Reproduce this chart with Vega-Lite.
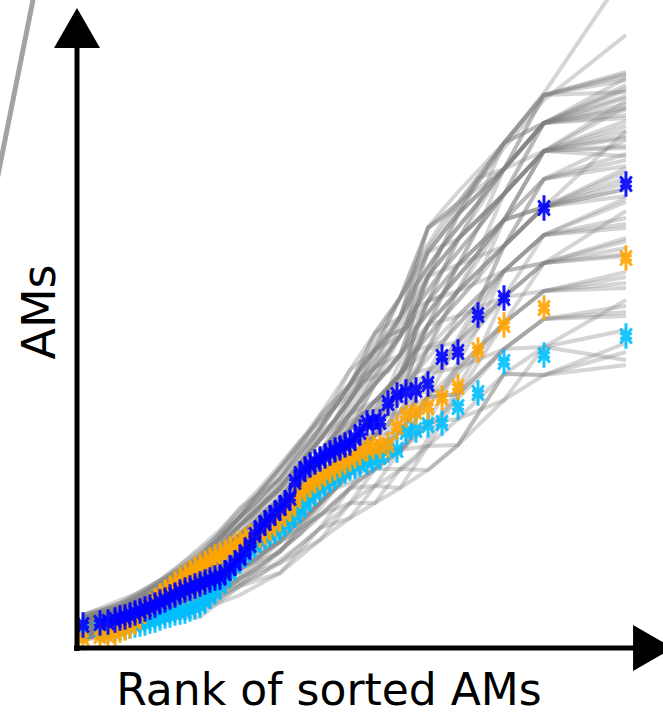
{
"$schema":"https://vega.github.io/schema/vega-lite/v6.json",
"width":663,"height":718,"autosize":"none","padding":0,
"config":{"view":{"stroke":null}},
"datasets":{
"lines":[
{"l":1,"x":6,"v":8},{"l":1,"x":43,"v":13},{"l":1,"x":83,"v":25},{"l":1,"x":123,"v":38},{"l":1,"x":163,"v":53},{"l":1,"x":203,"v":75},{"l":1,"x":243,"v":108},{"l":1,"x":273,"v":130},{"l":1,"x":298,"v":145},{"l":1,"x":323,"v":160},{"l":1,"x":351,"v":178},{"l":1,"x":381,"v":203},{"l":1,"x":427,"v":248},{"l":1,"x":467,"v":273},{"l":1,"x":549,"v":283},
{"l":2,"x":6,"v":10},{"l":2,"x":43,"v":13},{"l":2,"x":83,"v":29},{"l":2,"x":123,"v":31},{"l":2,"x":163,"v":62},{"l":2,"x":203,"v":85},{"l":2,"x":243,"v":108},{"l":2,"x":273,"v":145},{"l":2,"x":298,"v":145},{"l":2,"x":323,"v":179},{"l":2,"x":351,"v":178},{"l":2,"x":381,"v":203},{"l":2,"x":427,"v":274},{"l":2,"x":467,"v":273},{"l":2,"x":549,"v":305},
{"l":3,"x":6,"v":13},{"l":3,"x":43,"v":16},{"l":3,"x":83,"v":25},{"l":3,"x":123,"v":38},{"l":3,"x":163,"v":70},{"l":3,"x":203,"v":85},{"l":3,"x":243,"v":120},{"l":3,"x":273,"v":130},{"l":3,"x":298,"v":162},{"l":3,"x":323,"v":160},{"l":3,"x":351,"v":202},{"l":3,"x":381,"v":229},{"l":3,"x":427,"v":248},{"l":3,"x":467,"v":301},{"l":3,"x":549,"v":288},
{"l":4,"x":6,"v":8},{"l":4,"x":43,"v":19},{"l":4,"x":83,"v":29},{"l":4,"x":123,"v":44},{"l":4,"x":163,"v":62},{"l":4,"x":203,"v":96},{"l":4,"x":243,"v":133},{"l":4,"x":273,"v":145},{"l":4,"x":298,"v":179},{"l":4,"x":323,"v":179},{"l":4,"x":351,"v":202},{"l":4,"x":381,"v":203},{"l":4,"x":427,"v":274},{"l":4,"x":467,"v":301},{"l":4,"x":549,"v":318},
{"l":5,"x":6,"v":16},{"l":5,"x":43,"v":19},{"l":5,"x":83,"v":34},{"l":5,"x":123,"v":38},{"l":5,"x":163,"v":62},{"l":5,"x":203,"v":75},{"l":5,"x":243,"v":120},{"l":5,"x":273,"v":160},{"l":5,"x":298,"v":162},{"l":5,"x":323,"v":198},{"l":5,"x":351,"v":226},{"l":5,"x":381,"v":229},{"l":5,"x":427,"v":274},{"l":5,"x":467,"v":273},{"l":5,"x":549,"v":296},
{"l":6,"x":6,"v":10},{"l":6,"x":43,"v":16},{"l":6,"x":83,"v":34},{"l":6,"x":123,"v":51},{"l":6,"x":163,"v":70},{"l":6,"x":203,"v":106},{"l":6,"x":243,"v":133},{"l":6,"x":273,"v":160},{"l":6,"x":298,"v":196},{"l":6,"x":323,"v":198},{"l":6,"x":351,"v":202},{"l":6,"x":381,"v":254},{"l":6,"x":427,"v":299},{"l":6,"x":467,"v":329},{"l":6,"x":549,"v":342},
{"l":7,"x":6,"v":18},{"l":7,"x":43,"v":23},{"l":7,"x":83,"v":38},{"l":7,"x":123,"v":44},{"l":7,"x":163,"v":79},{"l":7,"x":203,"v":96},{"l":7,"x":243,"v":145},{"l":7,"x":273,"v":174},{"l":7,"x":298,"v":179},{"l":7,"x":323,"v":217},{"l":7,"x":351,"v":251},{"l":7,"x":381,"v":254},{"l":7,"x":427,"v":299},{"l":7,"x":467,"v":301},{"l":7,"x":549,"v":348},
{"l":8,"x":6,"v":13},{"l":8,"x":43,"v":23},{"l":8,"x":83,"v":42},{"l":8,"x":123,"v":51},{"l":8,"x":163,"v":79},{"l":8,"x":203,"v":117},{"l":8,"x":243,"v":145},{"l":8,"x":273,"v":189},{"l":8,"x":298,"v":196},{"l":8,"x":323,"v":198},{"l":8,"x":351,"v":226},{"l":8,"x":381,"v":280},{"l":8,"x":427,"v":325},{"l":8,"x":467,"v":357},{"l":8,"x":549,"v":371},
{"l":9,"x":6,"v":20},{"l":9,"x":43,"v":26},{"l":9,"x":83,"v":38},{"l":9,"x":123,"v":58},{"l":9,"x":163,"v":88},{"l":9,"x":203,"v":106},{"l":9,"x":243,"v":158},{"l":9,"x":273,"v":174},{"l":9,"x":298,"v":213},{"l":9,"x":323,"v":236},{"l":9,"x":351,"v":251},{"l":9,"x":381,"v":280},{"l":9,"x":427,"v":299},{"l":9,"x":467,"v":329},{"l":9,"x":549,"v":336},
{"l":10,"x":6,"v":16},{"l":10,"x":43,"v":26},{"l":10,"x":83,"v":46},{"l":10,"x":123,"v":58},{"l":10,"x":163,"v":96},{"l":10,"x":203,"v":117},{"l":10,"x":243,"v":170},{"l":10,"x":273,"v":189},{"l":10,"x":298,"v":213},{"l":10,"x":323,"v":217},{"l":10,"x":351,"v":275},{"l":10,"x":381,"v":306},{"l":10,"x":427,"v":351},{"l":10,"x":467,"v":357},{"l":10,"x":549,"v":365},
{"l":11,"x":6,"v":23},{"l":11,"x":43,"v":29},{"l":11,"x":83,"v":42},{"l":11,"x":123,"v":65},{"l":11,"x":163,"v":88},{"l":11,"x":203,"v":127},{"l":11,"x":243,"v":158},{"l":11,"x":273,"v":204},{"l":11,"x":298,"v":230},{"l":11,"x":323,"v":255},{"l":11,"x":351,"v":275},{"l":11,"x":381,"v":280},{"l":11,"x":427,"v":325},{"l":11,"x":467,"v":385},{"l":11,"x":549,"v":400},
{"l":12,"x":6,"v":18},{"l":12,"x":43,"v":29},{"l":12,"x":83,"v":46},{"l":12,"x":123,"v":71},{"l":12,"x":163,"v":96},{"l":12,"x":203,"v":127},{"l":12,"x":243,"v":183},{"l":12,"x":273,"v":204},{"l":12,"x":298,"v":230},{"l":12,"x":323,"v":236},{"l":12,"x":351,"v":299},{"l":12,"x":381,"v":332},{"l":12,"x":427,"v":377},{"l":12,"x":467,"v":385},{"l":12,"x":549,"v":407},
{"l":13,"x":6,"v":20},{"l":13,"x":43,"v":32},{"l":13,"x":83,"v":51},{"l":13,"x":123,"v":65},{"l":13,"x":163,"v":105},{"l":13,"x":203,"v":138},{"l":13,"x":243,"v":170},{"l":13,"x":273,"v":219},{"l":13,"x":298,"v":247},{"l":13,"x":323,"v":255},{"l":13,"x":351,"v":299},{"l":13,"x":381,"v":306},{"l":13,"x":427,"v":351},{"l":13,"x":467,"v":413},{"l":13,"x":549,"v":430},
{"l":14,"x":6,"v":26},{"l":14,"x":43,"v":32},{"l":14,"x":83,"v":46},{"l":14,"x":123,"v":71},{"l":14,"x":163,"v":105},{"l":14,"x":203,"v":148},{"l":14,"x":243,"v":183},{"l":14,"x":273,"v":219},{"l":14,"x":298,"v":230},{"l":14,"x":323,"v":274},{"l":14,"x":351,"v":323},{"l":14,"x":381,"v":357},{"l":14,"x":427,"v":377},{"l":14,"x":467,"v":413},{"l":14,"x":549,"v":424},
{"l":15,"x":6,"v":23},{"l":15,"x":43,"v":35},{"l":15,"x":83,"v":55},{"l":15,"x":123,"v":71},{"l":15,"x":163,"v":114},{"l":15,"x":203,"v":138},{"l":15,"x":243,"v":195},{"l":15,"x":273,"v":234},{"l":15,"x":298,"v":247},{"l":15,"x":323,"v":274},{"l":15,"x":351,"v":347},{"l":15,"x":381,"v":357},{"l":15,"x":427,"v":402},{"l":15,"x":467,"v":441},{"l":15,"x":549,"v":459},
{"l":16,"x":6,"v":28},{"l":16,"x":43,"v":35},{"l":16,"x":83,"v":51},{"l":16,"x":123,"v":78},{"l":16,"x":163,"v":114},{"l":16,"x":203,"v":148},{"l":16,"x":243,"v":183},{"l":16,"x":273,"v":234},{"l":16,"x":298,"v":264},{"l":16,"x":323,"v":293},{"l":16,"x":351,"v":323},{"l":16,"x":381,"v":383},{"l":16,"x":427,"v":428},{"l":16,"x":467,"v":441},{"l":16,"x":549,"v":452},
{"l":17,"x":6,"v":26},{"l":17,"x":43,"v":39},{"l":17,"x":83,"v":55},{"l":17,"x":123,"v":78},{"l":17,"x":163,"v":123},{"l":17,"x":203,"v":159},{"l":17,"x":243,"v":208},{"l":17,"x":273,"v":234},{"l":17,"x":298,"v":281},{"l":17,"x":323,"v":293},{"l":17,"x":351,"v":347},{"l":17,"x":381,"v":383},{"l":17,"x":427,"v":402},{"l":17,"x":467,"v":469},{"l":17,"x":549,"v":488},
{"l":18,"x":6,"v":30},{"l":18,"x":43,"v":39},{"l":18,"x":83,"v":59},{"l":18,"x":123,"v":85},{"l":18,"x":163,"v":114},{"l":18,"x":203,"v":159},{"l":18,"x":243,"v":195},{"l":18,"x":273,"v":248},{"l":18,"x":298,"v":281},{"l":18,"x":323,"v":312},{"l":18,"x":351,"v":372},{"l":18,"x":381,"v":383},{"l":18,"x":427,"v":428},{"l":18,"x":467,"v":469},{"l":18,"x":549,"v":482},
{"l":19,"x":6,"v":28},{"l":19,"x":43,"v":42},{"l":19,"x":83,"v":59},{"l":19,"x":123,"v":91},{"l":19,"x":163,"v":123},{"l":19,"x":203,"v":169},{"l":19,"x":243,"v":208},{"l":19,"x":273,"v":248},{"l":19,"x":298,"v":298},{"l":19,"x":323,"v":312},{"l":19,"x":351,"v":372},{"l":19,"x":381,"v":409},{"l":19,"x":427,"v":454},{"l":19,"x":467,"v":497},{"l":19,"x":549,"v":500},
{"l":20,"x":6,"v":33},{"l":20,"x":43,"v":42},{"l":20,"x":83,"v":64},{"l":20,"x":123,"v":85},{"l":20,"x":163,"v":131},{"l":20,"x":203,"v":159},{"l":20,"x":243,"v":220},{"l":20,"x":273,"v":263},{"l":20,"x":298,"v":281},{"l":20,"x":323,"v":331},{"l":20,"x":351,"v":396},{"l":20,"x":381,"v":409},{"l":20,"x":427,"v":454},{"l":20,"x":467,"v":497},{"l":20,"x":549,"v":517},
{"l":21,"x":6,"v":30},{"l":21,"x":43,"v":45},{"l":21,"x":83,"v":64},{"l":21,"x":123,"v":91},{"l":21,"x":163,"v":131},{"l":21,"x":203,"v":180},{"l":21,"x":243,"v":220},{"l":21,"x":273,"v":263},{"l":21,"x":298,"v":298},{"l":21,"x":323,"v":331},{"l":21,"x":351,"v":372},{"l":21,"x":381,"v":434},{"l":21,"x":427,"v":479},{"l":21,"x":467,"v":497},{"l":21,"x":549,"v":512},
{"l":22,"x":6,"v":33},{"l":22,"x":43,"v":45},{"l":22,"x":83,"v":68},{"l":22,"x":123,"v":91},{"l":22,"x":163,"v":140},{"l":22,"x":203,"v":169},{"l":22,"x":243,"v":233},{"l":22,"x":273,"v":278},{"l":22,"x":298,"v":298},{"l":22,"x":323,"v":350},{"l":22,"x":351,"v":396},{"l":22,"x":381,"v":434},{"l":22,"x":427,"v":479},{"l":22,"x":467,"v":525},{"l":22,"x":549,"v":540},
{"l":23,"x":6,"v":33},{"l":23,"x":43,"v":42},{"l":23,"x":83,"v":68},{"l":23,"x":123,"v":98},{"l":23,"x":163,"v":131},{"l":23,"x":203,"v":180},{"l":23,"x":243,"v":233},{"l":23,"x":273,"v":263},{"l":23,"x":298,"v":315},{"l":23,"x":323,"v":331},{"l":23,"x":351,"v":420},{"l":23,"x":381,"v":445},{"l":23,"x":427,"v":505},{"l":23,"x":467,"v":525},{"l":23,"x":549,"v":550},
{"l":24,"x":6,"v":26},{"l":24,"x":43,"v":35},{"l":24,"x":83,"v":59},{"l":24,"x":123,"v":85},{"l":24,"x":163,"v":131},{"l":24,"x":203,"v":169},{"l":24,"x":243,"v":220},{"l":24,"x":273,"v":278},{"l":24,"x":298,"v":315},{"l":24,"x":323,"v":350},{"l":24,"x":351,"v":420},{"l":24,"x":381,"v":445},{"l":24,"x":427,"v":479},{"l":24,"x":467,"v":553},{"l":24,"x":549,"v":576},
{"l":25,"x":6,"v":23},{"l":25,"x":43,"v":32},{"l":25,"x":83,"v":55},{"l":25,"x":123,"v":78},{"l":25,"x":163,"v":123},{"l":25,"x":203,"v":159},{"l":25,"x":243,"v":208},{"l":25,"x":273,"v":248},{"l":25,"x":298,"v":298},{"l":25,"x":323,"v":331},{"l":25,"x":351,"v":396},{"l":25,"x":381,"v":434},{"l":25,"x":427,"v":505},{"l":25,"x":467,"v":553},{"l":25,"x":549,"v":568},
{"l":26,"x":6,"v":16},{"l":26,"x":43,"v":23},{"l":26,"x":83,"v":42},{"l":26,"x":123,"v":58},{"l":26,"x":163,"v":96},{"l":26,"x":203,"v":127},{"l":26,"x":243,"v":183},{"l":26,"x":273,"v":219},{"l":26,"x":298,"v":264},{"l":26,"x":323,"v":293},{"l":26,"x":351,"v":372},{"l":26,"x":381,"v":409},{"l":26,"x":427,"v":454},{"l":26,"x":467,"v":525},{"l":26,"x":549,"v":533},
{"l":27,"x":6,"v":13},{"l":27,"x":43,"v":19},{"l":27,"x":83,"v":38},{"l":27,"x":123,"v":51},{"l":27,"x":163,"v":88},{"l":27,"x":203,"v":117},{"l":27,"x":243,"v":170},{"l":27,"x":273,"v":204},{"l":27,"x":298,"v":247},{"l":27,"x":323,"v":274},{"l":27,"x":351,"v":347},{"l":27,"x":381,"v":383},{"l":27,"x":427,"v":428},{"l":27,"x":467,"v":497},{"l":27,"x":549,"v":522},
{"l":28,"x":6,"v":18},{"l":28,"x":43,"v":26},{"l":28,"x":83,"v":42},{"l":28,"x":123,"v":65},{"l":28,"x":163,"v":96},{"l":28,"x":203,"v":138},{"l":28,"x":243,"v":183},{"l":28,"x":273,"v":234},{"l":28,"x":298,"v":264},{"l":28,"x":323,"v":312},{"l":28,"x":351,"v":347},{"l":28,"x":381,"v":409},{"l":28,"x":427,"v":454},{"l":28,"x":467,"v":497},{"l":28,"x":549,"v":547},
{"l":29,"x":6,"v":20},{"l":29,"x":43,"v":29},{"l":29,"x":83,"v":51},{"l":29,"x":123,"v":71},{"l":29,"x":163,"v":105},{"l":29,"x":203,"v":138},{"l":29,"x":243,"v":195},{"l":29,"x":273,"v":219},{"l":29,"x":298,"v":264},{"l":29,"x":323,"v":293},{"l":29,"x":351,"v":372},{"l":29,"x":381,"v":409},{"l":29,"x":427,"v":479},{"l":29,"x":467,"v":525},{"l":29,"x":549,"v":563},
{"l":30,"x":6,"v":28},{"l":30,"x":43,"v":39},{"l":30,"x":83,"v":55},{"l":30,"x":123,"v":71},{"l":30,"x":163,"v":105},{"l":30,"x":203,"v":127},{"l":30,"x":243,"v":170},{"l":30,"x":273,"v":204},{"l":30,"x":298,"v":213},{"l":30,"x":323,"v":255},{"l":30,"x":351,"v":323},{"l":30,"x":381,"v":357},{"l":30,"x":427,"v":428},{"l":30,"x":467,"v":469},{"l":30,"x":549,"v":508},
{"l":31,"x":6,"v":30},{"l":31,"x":43,"v":39},{"l":31,"x":83,"v":64},{"l":31,"x":123,"v":85},{"l":31,"x":163,"v":123},{"l":31,"x":203,"v":148},{"l":31,"x":243,"v":195},{"l":31,"x":273,"v":219},{"l":31,"x":298,"v":247},{"l":31,"x":323,"v":274},{"l":31,"x":351,"v":299},{"l":31,"x":381,"v":357},{"l":31,"x":427,"v":402},{"l":31,"x":467,"v":469},{"l":31,"x":549,"v":494},
{"l":32,"x":6,"v":10},{"l":32,"x":43,"v":19},{"l":32,"x":83,"v":34},{"l":32,"x":123,"v":44},{"l":32,"x":163,"v":79},{"l":32,"x":203,"v":106},{"l":32,"x":243,"v":145},{"l":32,"x":273,"v":189},{"l":32,"x":298,"v":213},{"l":32,"x":323,"v":255},{"l":32,"x":351,"v":323},{"l":32,"x":381,"v":357},{"l":32,"x":427,"v":402},{"l":32,"x":467,"v":441},{"l":32,"x":549,"v":465},
{"l":33,"x":6,"v":23},{"l":33,"x":43,"v":29},{"l":33,"x":83,"v":46},{"l":33,"x":123,"v":65},{"l":33,"x":163,"v":88},{"l":33,"x":203,"v":117},{"l":33,"x":243,"v":158},{"l":33,"x":273,"v":174},{"l":33,"x":298,"v":196},{"l":33,"x":323,"v":217},{"l":33,"x":351,"v":251},{"l":33,"x":381,"v":306},{"l":33,"x":427,"v":377},{"l":33,"x":467,"v":413},{"l":33,"x":549,"v":446},
{"l":34,"x":6,"v":16},{"l":34,"x":43,"v":23},{"l":34,"x":83,"v":38},{"l":34,"x":123,"v":51},{"l":34,"x":163,"v":79},{"l":34,"x":203,"v":106},{"l":34,"x":243,"v":133},{"l":34,"x":273,"v":160},{"l":34,"x":298,"v":179},{"l":34,"x":323,"v":198},{"l":34,"x":351,"v":251},{"l":34,"x":381,"v":254},{"l":34,"x":427,"v":325},{"l":34,"x":467,"v":357},{"l":34,"x":549,"v":376},
{"l":35,"x":6,"v":26},{"l":35,"x":43,"v":35},{"l":35,"x":83,"v":51},{"l":35,"x":123,"v":65},{"l":35,"x":163,"v":96},{"l":35,"x":203,"v":117},{"l":35,"x":243,"v":158},{"l":35,"x":273,"v":189},{"l":35,"x":298,"v":230},{"l":35,"x":323,"v":274},{"l":35,"x":351,"v":323},{"l":35,"x":381,"v":332},{"l":35,"x":427,"v":351},{"l":35,"x":467,"v":385},{"l":35,"x":549,"v":437},
{"l":36,"x":6,"v":13},{"l":36,"x":43,"v":16},{"l":36,"x":83,"v":29},{"l":36,"x":123,"v":38},{"l":36,"x":163,"v":70},{"l":36,"x":203,"v":96},{"l":36,"x":243,"v":145},{"l":36,"x":273,"v":174},{"l":36,"x":298,"v":196},{"l":36,"x":323,"v":236},{"l":36,"x":351,"v":275},{"l":36,"x":381,"v":332},{"l":36,"x":427,"v":377},{"l":36,"x":467,"v":385},{"l":36,"x":549,"v":394},
{"l":37,"x":6,"v":28},{"l":37,"x":43,"v":39},{"l":37,"x":83,"v":59},{"l":37,"x":123,"v":91},{"l":37,"x":163,"v":131},{"l":37,"x":203,"v":169},{"l":37,"x":243,"v":220},{"l":37,"x":273,"v":263},{"l":37,"x":298,"v":315},{"l":37,"x":323,"v":350},{"l":37,"x":351,"v":420},{"l":37,"x":381,"v":440},{"l":37,"x":427,"v":505},{"l":37,"x":467,"v":553},{"l":37,"x":549,"v":572},
{"l":38,"x":6,"v":20},{"l":38,"x":43,"v":32},{"l":38,"x":83,"v":51},{"l":38,"x":123,"v":78},{"l":38,"x":163,"v":114},{"l":38,"x":203,"v":148},{"l":38,"x":243,"v":208},{"l":38,"x":273,"v":248},{"l":38,"x":298,"v":281},{"l":38,"x":323,"v":312},{"l":38,"x":351,"v":396},{"l":38,"x":381,"v":434},{"l":38,"x":427,"v":479},{"l":38,"x":467,"v":525},{"l":38,"x":549,"v":558},
{"l":39,"x":6,"v":18},{"l":39,"x":43,"v":33},{"l":39,"x":83,"v":58},{"l":39,"x":123,"v":88},{"l":39,"x":163,"v":133},{"l":39,"x":203,"v":178},{"l":39,"x":243,"v":228},{"l":39,"x":273,"v":253},{"l":39,"x":298,"v":288},{"l":39,"x":323,"v":330},{"l":39,"x":351,"v":421},{"l":39,"x":381,"v":456},{"l":39,"x":427,"v":505},{"l":39,"x":467,"v":555},{"l":39,"x":549,"v":676},
{"l":40,"x":6,"v":25},{"l":40,"x":43,"v":40},{"l":40,"x":83,"v":65},{"l":40,"x":123,"v":95},{"l":40,"x":163,"v":135},{"l":40,"x":203,"v":180},{"l":40,"x":243,"v":230},{"l":40,"x":273,"v":265},{"l":40,"x":298,"v":300},{"l":40,"x":323,"v":350},{"l":40,"x":351,"v":400},{"l":40,"x":381,"v":440},{"l":40,"x":427,"v":500},{"l":40,"x":467,"v":548},{"l":40,"x":549,"v":613},
{"l":41,"x":6,"v":10},{"l":41,"x":63,"v":22},{"l":41,"x":103,"v":39},{"l":41,"x":143,"v":57},{"l":41,"x":183,"v":92},{"l":41,"x":223,"v":126},{"l":41,"x":258,"v":173},{"l":41,"x":285,"v":202},{"l":41,"x":311,"v":241},{"l":41,"x":329,"v":261},{"l":41,"x":339,"v":298},{"l":41,"x":365,"v":329},{"l":41,"x":401,"v":395},{"l":41,"x":427,"v":428},{"l":41,"x":467,"v":441},{"l":41,"x":549,"v":517},
{"l":42,"x":6,"v":13},{"l":42,"x":63,"v":26},{"l":42,"x":103,"v":34},{"l":42,"x":143,"v":50},{"l":42,"x":183,"v":82},{"l":42,"x":223,"v":114},{"l":42,"x":258,"v":159},{"l":42,"x":285,"v":202},{"l":42,"x":311,"v":223},{"l":42,"x":329,"v":261},{"l":42,"x":339,"v":276},{"l":42,"x":365,"v":329},{"l":42,"x":401,"v":370},{"l":42,"x":427,"v":428},{"l":42,"x":467,"v":497},{"l":42,"x":549,"v":510},
{"l":43,"x":6,"v":16},{"l":43,"x":63,"v":33},{"l":43,"x":103,"v":50},{"l":43,"x":143,"v":65},{"l":43,"x":183,"v":92},{"l":43,"x":223,"v":137},{"l":43,"x":258,"v":173},{"l":43,"x":285,"v":218},{"l":43,"x":311,"v":241},{"l":43,"x":329,"v":281},{"l":43,"x":339,"v":298},{"l":43,"x":365,"v":353},{"l":43,"x":401,"v":395},{"l":43,"x":427,"v":454},{"l":43,"x":467,"v":497},{"l":43,"x":549,"v":541},
{"l":44,"x":6,"v":18},{"l":44,"x":63,"v":29},{"l":44,"x":103,"v":45},{"l":44,"x":143,"v":72},{"l":44,"x":183,"v":102},{"l":44,"x":223,"v":149},{"l":44,"x":258,"v":187},{"l":44,"x":285,"v":218},{"l":44,"x":311,"v":259},{"l":44,"x":329,"v":281},{"l":44,"x":339,"v":320},{"l":44,"x":365,"v":353},{"l":44,"x":401,"v":420},{"l":44,"x":427,"v":454},{"l":44,"x":467,"v":525},{"l":44,"x":549,"v":552},
{"l":45,"x":6,"v":20},{"l":45,"x":63,"v":37},{"l":45,"x":103,"v":50},{"l":45,"x":143,"v":72},{"l":45,"x":183,"v":112},{"l":45,"x":223,"v":149},{"l":45,"x":258,"v":200},{"l":45,"x":285,"v":234},{"l":45,"x":311,"v":259},{"l":45,"x":329,"v":301},{"l":45,"x":339,"v":320},{"l":45,"x":365,"v":377},{"l":45,"x":401,"v":420},{"l":45,"x":427,"v":479},{"l":45,"x":467,"v":525},{"l":45,"x":549,"v":544},
{"l":46,"x":6,"v":23},{"l":46,"x":63,"v":41},{"l":46,"x":103,"v":56},{"l":46,"x":143,"v":80},{"l":46,"x":183,"v":112},{"l":46,"x":223,"v":161},{"l":46,"x":258,"v":200},{"l":46,"x":285,"v":250},{"l":46,"x":311,"v":277},{"l":46,"x":329,"v":301},{"l":46,"x":339,"v":341},{"l":46,"x":365,"v":377},{"l":46,"x":401,"v":445},{"l":46,"x":427,"v":479},{"l":46,"x":467,"v":525},{"l":46,"x":549,"v":570},
{"l":47,"x":6,"v":26},{"l":47,"x":63,"v":41},{"l":47,"x":103,"v":61},{"l":47,"x":143,"v":88},{"l":47,"x":183,"v":121},{"l":47,"x":223,"v":161},{"l":47,"x":258,"v":214},{"l":47,"x":285,"v":250},{"l":47,"x":311,"v":294},{"l":47,"x":329,"v":320},{"l":47,"x":339,"v":341},{"l":47,"x":365,"v":401},{"l":47,"x":401,"v":445},{"l":47,"x":427,"v":479},{"l":47,"x":467,"v":553},{"l":47,"x":549,"v":574},
{"l":48,"x":6,"v":28},{"l":48,"x":63,"v":45},{"l":48,"x":103,"v":67},{"l":48,"x":143,"v":95},{"l":48,"x":183,"v":131},{"l":48,"x":223,"v":172},{"l":48,"x":258,"v":214},{"l":48,"x":285,"v":266},{"l":48,"x":311,"v":294},{"l":48,"x":329,"v":340},{"l":48,"x":339,"v":363},{"l":48,"x":365,"v":401},{"l":48,"x":401,"v":445},{"l":48,"x":427,"v":505},{"l":48,"x":467,"v":553},{"l":48,"x":549,"v":556},
{"l":49,"x":6,"v":30},{"l":49,"x":63,"v":48},{"l":49,"x":103,"v":72},{"l":49,"x":143,"v":95},{"l":49,"x":183,"v":141},{"l":49,"x":223,"v":184},{"l":49,"x":258,"v":228},{"l":49,"x":285,"v":266},{"l":49,"x":311,"v":312},{"l":49,"x":329,"v":340},{"l":49,"x":339,"v":363},{"l":49,"x":365,"v":401},{"l":49,"x":401,"v":470},{"l":49,"x":427,"v":505},{"l":49,"x":467,"v":525},{"l":49,"x":549,"v":538},
{"l":50,"x":6,"v":20},{"l":50,"x":63,"v":41},{"l":50,"x":103,"v":61},{"l":50,"x":143,"v":88},{"l":50,"x":183,"v":112},{"l":50,"x":223,"v":149},{"l":50,"x":258,"v":187},{"l":50,"x":285,"v":218},{"l":50,"x":311,"v":259},{"l":50,"x":329,"v":281},{"l":50,"x":339,"v":298},{"l":50,"x":365,"v":329},{"l":50,"x":401,"v":370},{"l":50,"x":427,"v":402},{"l":50,"x":467,"v":441},{"l":50,"x":549,"v":480},
{"l":51,"x":6,"v":16},{"l":51,"x":63,"v":29},{"l":51,"x":103,"v":50},{"l":51,"x":143,"v":80},{"l":51,"x":183,"v":112},{"l":51,"x":223,"v":137},{"l":51,"x":258,"v":173},{"l":51,"x":285,"v":202},{"l":51,"x":311,"v":223},{"l":51,"x":329,"v":261},{"l":51,"x":339,"v":276},{"l":51,"x":365,"v":306},{"l":51,"x":401,"v":345},{"l":51,"x":427,"v":402},{"l":51,"x":467,"v":441},{"l":51,"x":549,"v":470},
{"l":52,"x":6,"v":23},{"l":52,"x":63,"v":37},{"l":52,"x":103,"v":56},{"l":52,"x":143,"v":88},{"l":52,"x":183,"v":131},{"l":52,"x":223,"v":172},{"l":52,"x":258,"v":200},{"l":52,"x":285,"v":234},{"l":52,"x":311,"v":241},{"l":52,"x":329,"v":261},{"l":52,"x":339,"v":276},{"l":52,"x":365,"v":282},{"l":52,"x":401,"v":345},{"l":52,"x":427,"v":377},{"l":52,"x":467,"v":413},{"l":52,"x":549,"v":450},
{"l":53,"x":6,"v":13},{"l":53,"x":63,"v":29},{"l":53,"x":103,"v":45},{"l":53,"x":143,"v":65},{"l":53,"x":183,"v":102},{"l":53,"x":223,"v":137},{"l":53,"x":258,"v":173},{"l":53,"x":285,"v":186},{"l":53,"x":311,"v":205},{"l":53,"x":329,"v":241},{"l":53,"x":339,"v":254},{"l":53,"x":365,"v":282},{"l":53,"x":401,"v":320},{"l":53,"x":427,"v":377},{"l":53,"x":467,"v":413},{"l":53,"x":549,"v":420},
{"l":54,"x":6,"v":26},{"l":54,"x":63,"v":48},{"l":54,"x":103,"v":72},{"l":54,"x":143,"v":103},{"l":54,"x":183,"v":141},{"l":54,"x":223,"v":172},{"l":54,"x":258,"v":214},{"l":54,"x":285,"v":234},{"l":54,"x":311,"v":259},{"l":54,"x":329,"v":281},{"l":54,"x":339,"v":298},{"l":54,"x":365,"v":306},{"l":54,"x":401,"v":345},{"l":54,"x":427,"v":402},{"l":54,"x":467,"v":441},{"l":54,"x":549,"v":476},
{"l":55,"x":6,"v":28},{"l":55,"x":63,"v":52},{"l":55,"x":103,"v":78},{"l":55,"x":143,"v":110},{"l":55,"x":183,"v":150},{"l":55,"x":223,"v":195},{"l":55,"x":258,"v":228},{"l":55,"x":285,"v":266},{"l":55,"x":311,"v":277},{"l":55,"x":329,"v":301},{"l":55,"x":339,"v":320},{"l":55,"x":365,"v":353},{"l":55,"x":401,"v":395},{"l":55,"x":427,"v":428},{"l":55,"x":467,"v":497},{"l":55,"x":549,"v":527},
{"l":56,"x":6,"v":18},{"l":56,"x":63,"v":33},{"l":56,"x":103,"v":56},{"l":56,"x":143,"v":72},{"l":56,"x":183,"v":102},{"l":56,"x":223,"v":126},{"l":56,"x":258,"v":159},{"l":56,"x":285,"v":186},{"l":56,"x":311,"v":205},{"l":56,"x":329,"v":221},{"l":56,"x":339,"v":254},{"l":56,"x":365,"v":258},{"l":56,"x":401,"v":295},{"l":56,"x":427,"v":351},{"l":56,"x":467,"v":385},{"l":56,"x":549,"v":410},
{"l":57,"x":6,"v":10},{"l":57,"x":63,"v":22},{"l":57,"x":103,"v":34},{"l":57,"x":143,"v":57},{"l":57,"x":183,"v":82},{"l":57,"x":223,"v":114},{"l":57,"x":258,"v":145},{"l":57,"x":285,"v":170},{"l":57,"x":311,"v":188},{"l":57,"x":329,"v":202},{"l":57,"x":339,"v":211},{"l":57,"x":365,"v":234},{"l":57,"x":401,"v":295},{"l":57,"x":427,"v":325},{"l":57,"x":467,"v":357},{"l":57,"x":549,"v":360},
{"l":58,"x":6,"v":23},{"l":58,"x":63,"v":45},{"l":58,"x":103,"v":67},{"l":58,"x":143,"v":103},{"l":58,"x":183,"v":141},{"l":58,"x":223,"v":184},{"l":58,"x":258,"v":241},{"l":58,"x":285,"v":282},{"l":58,"x":311,"v":312},{"l":58,"x":329,"v":320},{"l":58,"x":339,"v":341},{"l":58,"x":365,"v":377},{"l":58,"x":401,"v":420},{"l":58,"x":427,"v":454},{"l":58,"x":467,"v":497},{"l":58,"x":549,"v":502},
{"l":59,"x":6,"v":30},{"l":59,"x":63,"v":52},{"l":59,"x":103,"v":83},{"l":59,"x":143,"v":118},{"l":59,"x":183,"v":160},{"l":59,"x":223,"v":207},{"l":59,"x":258,"v":241},{"l":59,"x":285,"v":282},{"l":59,"x":311,"v":312},{"l":59,"x":329,"v":320},{"l":59,"x":339,"v":341},{"l":59,"x":365,"v":353},{"l":59,"x":401,"v":395},{"l":59,"x":427,"v":428},{"l":59,"x":467,"v":441},{"l":59,"x":549,"v":459},
{"l":60,"x":6,"v":16},{"l":60,"x":63,"v":26},{"l":60,"x":103,"v":39},{"l":60,"x":143,"v":57},{"l":60,"x":183,"v":73},{"l":60,"x":223,"v":103},{"l":60,"x":258,"v":132},{"l":60,"x":285,"v":154},{"l":60,"x":311,"v":170},{"l":60,"x":329,"v":182},{"l":60,"x":339,"v":189},{"l":60,"x":365,"v":234},{"l":60,"x":401,"v":270},{"l":60,"x":427,"v":299},{"l":60,"x":467,"v":329},{"l":60,"x":549,"v":332},
{"l":61,"x":6,"v":20},{"l":61,"x":63,"v":33},{"l":61,"x":103,"v":50},{"l":61,"x":143,"v":80},{"l":61,"x":183,"v":121},{"l":61,"x":223,"v":161},{"l":61,"x":258,"v":214},{"l":61,"x":285,"v":250},{"l":61,"x":311,"v":294},{"l":61,"x":329,"v":320},{"l":61,"x":339,"v":363},{"l":61,"x":365,"v":401},{"l":61,"x":401,"v":445},{"l":61,"x":427,"v":479},{"l":61,"x":467,"v":525},{"l":61,"x":549,"v":530},
{"l":62,"x":6,"v":26},{"l":62,"x":63,"v":45},{"l":62,"x":103,"v":67},{"l":62,"x":143,"v":88},{"l":62,"x":183,"v":121},{"l":62,"x":223,"v":149},{"l":62,"x":258,"v":187},{"l":62,"x":285,"v":218},{"l":62,"x":311,"v":241},{"l":62,"x":329,"v":281},{"l":62,"x":339,"v":320},{"l":62,"x":365,"v":353},{"l":62,"x":401,"v":420},{"l":62,"x":427,"v":454},{"l":62,"x":467,"v":497},{"l":62,"x":549,"v":492},
{"l":63,"x":6,"v":13},{"l":63,"x":63,"v":26},{"l":63,"x":103,"v":45},{"l":63,"x":143,"v":65},{"l":63,"x":183,"v":92},{"l":63,"x":223,"v":126},{"l":63,"x":258,"v":159},{"l":63,"x":285,"v":170},{"l":63,"x":311,"v":188},{"l":63,"x":329,"v":202},{"l":63,"x":339,"v":232},{"l":63,"x":365,"v":258},{"l":63,"x":401,"v":320},{"l":63,"x":427,"v":351},{"l":63,"x":467,"v":385},{"l":63,"x":549,"v":392},
{"l":64,"x":6,"v":33},{"l":64,"x":63,"v":56},{"l":64,"x":103,"v":78},{"l":64,"x":143,"v":110},{"l":64,"x":183,"v":141},{"l":64,"x":223,"v":184},{"l":64,"x":258,"v":228},{"l":64,"x":285,"v":282},{"l":64,"x":311,"v":330},{"l":64,"x":329,"v":360},{"l":64,"x":339,"v":385},{"l":64,"x":365,"v":425},{"l":64,"x":401,"v":470},{"l":64,"x":427,"v":479},{"l":64,"x":467,"v":525},{"l":64,"x":549,"v":560}
],
"marks":[
{"s":"lb","x":6,"v":18},{"s":"lb","x":23,"v":18},{"s":"lb","x":31,"v":18},{"s":"lb","x":38,"v":19},{"s":"lb","x":43,"v":20},{"s":"lb","x":48,"v":21},{"s":"lb","x":53,"v":22},{"s":"lb","x":58,"v":23},{"s":"lb","x":63,"v":24},{"s":"lb","x":68,"v":25},{"s":"lb","x":73,"v":27},{"s":"lb","x":78,"v":28},{"s":"lb","x":83,"v":30},{"s":"lb","x":88,"v":32},{"s":"lb","x":93,"v":33},{"s":"lb","x":98,"v":35},{"s":"lb","x":103,"v":36},{"s":"lb","x":108,"v":37},{"s":"lb","x":113,"v":39},{"s":"lb","x":118,"v":41},{"s":"lb","x":123,"v":43},{"s":"lb","x":128,"v":47},{"s":"lb","x":133,"v":52},{"s":"lb","x":138,"v":56},{"s":"lb","x":143,"v":62},{"s":"lb","x":148,"v":68},{"s":"lb","x":153,"v":75},{"s":"lb","x":158,"v":82},{"s":"lb","x":163,"v":88},{"s":"lb","x":168,"v":93},{"s":"lb","x":173,"v":98},{"s":"lb","x":178,"v":103},{"s":"lb","x":183,"v":108},{"s":"lb","x":188,"v":111},{"s":"lb","x":193,"v":114},{"s":"lb","x":198,"v":117},{"s":"lb","x":203,"v":120},{"s":"lb","x":208,"v":124},{"s":"lb","x":213,"v":128},{"s":"lb","x":218,"v":133},{"s":"lb","x":223,"v":138},{"s":"lb","x":228,"v":144},{"s":"lb","x":233,"v":150},{"s":"lb","x":238,"v":155},{"s":"lb","x":243,"v":160},{"s":"lb","x":248,"v":164},{"s":"lb","x":253,"v":168},{"s":"lb","x":258,"v":171},{"s":"lb","x":263,"v":174},{"s":"lb","x":268,"v":177},{"s":"lb","x":273,"v":180},{"s":"lb","x":278,"v":182},{"s":"lb","x":283,"v":184},{"s":"lb","x":290,"v":186},{"s":"lb","x":296,"v":188},{"s":"lb","x":303,"v":191},{"s":"lb","x":311,"v":198},{"s":"lb","x":320,"v":198},{"s":"lb","x":329,"v":216},{"s":"lb","x":339,"v":218},{"s":"lb","x":351,"v":223},{"s":"lb","x":365,"v":225},{"s":"lb","x":381,"v":241},{"s":"lb","x":401,"v":255},{"s":"lb","x":427,"v":286},{"s":"lb","x":467,"v":293},{"s":"lb","x":549,"v":312},
{"s":"or","x":6,"v":10},{"s":"or","x":23,"v":12},{"s":"or","x":31,"v":13},{"s":"or","x":38,"v":15},{"s":"or","x":43,"v":18},{"s":"or","x":48,"v":20},{"s":"or","x":53,"v":22},{"s":"or","x":58,"v":26},{"s":"or","x":63,"v":32},{"s":"or","x":68,"v":37},{"s":"or","x":73,"v":42},{"s":"or","x":78,"v":47},{"s":"or","x":83,"v":52},{"s":"or","x":88,"v":56},{"s":"or","x":93,"v":60},{"s":"or","x":98,"v":64},{"s":"or","x":103,"v":68},{"s":"or","x":108,"v":72},{"s":"or","x":113,"v":75},{"s":"or","x":118,"v":79},{"s":"or","x":123,"v":82},{"s":"or","x":128,"v":85},{"s":"or","x":133,"v":88},{"s":"or","x":138,"v":91},{"s":"or","x":143,"v":93},{"s":"or","x":148,"v":96},{"s":"or","x":153,"v":99},{"s":"or","x":158,"v":102},{"s":"or","x":163,"v":105},{"s":"or","x":168,"v":108},{"s":"or","x":173,"v":111},{"s":"or","x":178,"v":112},{"s":"or","x":183,"v":113},{"s":"or","x":188,"v":116},{"s":"or","x":193,"v":120},{"s":"or","x":198,"v":124},{"s":"or","x":203,"v":129},{"s":"or","x":208,"v":134},{"s":"or","x":213,"v":139},{"s":"or","x":218,"v":147},{"s":"or","x":223,"v":155},{"s":"or","x":228,"v":159},{"s":"or","x":233,"v":163},{"s":"or","x":238,"v":167},{"s":"or","x":243,"v":170},{"s":"or","x":248,"v":174},{"s":"or","x":253,"v":177},{"s":"or","x":258,"v":180},{"s":"or","x":263,"v":183},{"s":"or","x":268,"v":186},{"s":"or","x":273,"v":189},{"s":"or","x":278,"v":192},{"s":"or","x":283,"v":195},{"s":"or","x":290,"v":199},{"s":"or","x":296,"v":201},{"s":"or","x":303,"v":202},{"s":"or","x":311,"v":203},{"s":"or","x":320,"v":221},{"s":"or","x":329,"v":233},{"s":"or","x":339,"v":236},{"s":"or","x":351,"v":241},{"s":"or","x":365,"v":250},{"s":"or","x":381,"v":261},{"s":"or","x":401,"v":298},{"s":"or","x":427,"v":323},{"s":"or","x":467,"v":340},{"s":"or","x":549,"v":390},
{"s":"bl","x":6,"v":23},{"s":"bl","x":23,"v":25},{"s":"bl","x":31,"v":26},{"s":"bl","x":38,"v":28},{"s":"bl","x":43,"v":30},{"s":"bl","x":48,"v":31},{"s":"bl","x":53,"v":33},{"s":"bl","x":58,"v":35},{"s":"bl","x":63,"v":37},{"s":"bl","x":68,"v":39},{"s":"bl","x":73,"v":41},{"s":"bl","x":78,"v":43},{"s":"bl","x":83,"v":46},{"s":"bl","x":88,"v":48},{"s":"bl","x":93,"v":51},{"s":"bl","x":98,"v":53},{"s":"bl","x":103,"v":56},{"s":"bl","x":108,"v":58},{"s":"bl","x":113,"v":60},{"s":"bl","x":118,"v":62},{"s":"bl","x":123,"v":64},{"s":"bl","x":128,"v":66},{"s":"bl","x":133,"v":68},{"s":"bl","x":138,"v":70},{"s":"bl","x":143,"v":71},{"s":"bl","x":148,"v":75},{"s":"bl","x":153,"v":80},{"s":"bl","x":158,"v":85},{"s":"bl","x":163,"v":90},{"s":"bl","x":168,"v":96},{"s":"bl","x":173,"v":103},{"s":"bl","x":178,"v":113},{"s":"bl","x":183,"v":120},{"s":"bl","x":188,"v":125},{"s":"bl","x":193,"v":130},{"s":"bl","x":198,"v":135},{"s":"bl","x":203,"v":140},{"s":"bl","x":208,"v":145},{"s":"bl","x":213,"v":150},{"s":"bl","x":218,"v":166},{"s":"bl","x":223,"v":174},{"s":"bl","x":228,"v":179},{"s":"bl","x":233,"v":183},{"s":"bl","x":238,"v":186},{"s":"bl","x":243,"v":189},{"s":"bl","x":248,"v":192},{"s":"bl","x":253,"v":195},{"s":"bl","x":258,"v":198},{"s":"bl","x":263,"v":200},{"s":"bl","x":268,"v":203},{"s":"bl","x":273,"v":205},{"s":"bl","x":278,"v":210},{"s":"bl","x":283,"v":216},{"s":"bl","x":290,"v":225},{"s":"bl","x":296,"v":226},{"s":"bl","x":303,"v":226},{"s":"bl","x":311,"v":245},{"s":"bl","x":320,"v":253},{"s":"bl","x":329,"v":256},{"s":"bl","x":339,"v":258},{"s":"bl","x":351,"v":264},{"s":"bl","x":365,"v":291},{"s":"bl","x":381,"v":296},{"s":"bl","x":401,"v":333},{"s":"bl","x":427,"v":350},{"s":"bl","x":467,"v":440},{"s":"bl","x":549,"v":464}
]
},
"encoding":{
"x":{"field":"x","type":"quantitative","scale":{"domain":[-77,586],"nice":false,"zero":false},"axis":null},
"y":{"field":"v","type":"quantitative","scale":{"domain":[-70,648],"nice":false,"zero":false},"axis":null}
},
"layer":[
{"data":{"values":[{"x":-80,"v":468},{"x":-40,"v":668}]},
 "mark":{"type":"line","color":"#a3a3a3","strokeWidth":5},"encoding":{}},
{"data":{"name":"lines"},
 "mark":{"type":"line","color":"#808080","opacity":0.33,"strokeWidth":4},
 "encoding":{"detail":{"field":"l","type":"nominal"}}},
{"data":{"name":"marks"},
 "mark":{"type":"point","shape":"M0,-1L0,1M-0.45,-0.6L0.45,0.6M-0.45,0.6L0.45,-0.6M-0.45,-0.22L0.45,0.22M-0.45,0.22L0.45,-0.22","filled":false,"size":650,"strokeWidth":3,"opacity":0.9},
 "encoding":{"color":{"field":"s","type":"nominal","scale":{"domain":["lb","or","bl"],"range":["#00bfff","#ffa500","#0000ff"]},"legend":null}}},
{"data":{"values":[{"x":0,"v":-3,"x2":0,"v2":606},{"x":-3,"v":0,"x2":562,"v2":0}]},
 "mark":{"type":"rule","color":"black","strokeWidth":5},
 "encoding":{"x2":{"field":"x2"},"y2":{"field":"v2"}}},
{"data":{"values":[{"x":0,"v":620,"d":"up"},{"x":576,"v":0,"d":"right"}]},
 "mark":{"type":"point","filled":true,"color":"black","opacity":1,"size":2116},
 "encoding":{"shape":{"field":"d","type":"nominal","scale":{"domain":["up","right"],"range":["M-1,0.866L0,-0.866L1,0.866Z","M-0.866,-1L0.866,0L-0.866,1Z"]},"legend":null}}},
{"data":{"values":[{"x":252,"v":-57,"t":"Rank of sorted AMs"}]},
 "mark":{"type":"text","font":"DejaVu Sans","fontSize":44,"align":"center","baseline":"alphabetic","color":"black"},
 "encoding":{"text":{"field":"t"}}},
{"data":{"values":[{"x":-22,"v":336,"t":"AMs"}]},
 "mark":{"type":"text","font":"DejaVu Sans","fontSize":46,"align":"center","baseline":"alphabetic","angle":270,"color":"black"},
 "encoding":{"text":{"field":"t"}}}
]
}
